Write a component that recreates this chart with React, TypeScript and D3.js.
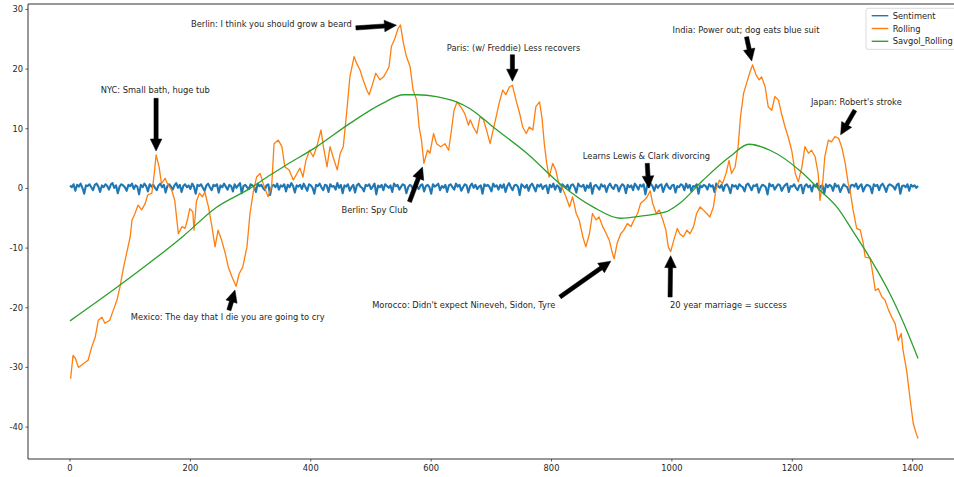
import React from "react";
import * as d3 from "d3";

// ---------- data ----------
const sentimentValues: number[] = [
  0.5,0.2,0.7,-0.4,0.6,0.3,0.8,0.1,-0.9,0.5,0.4,0.7,0.2,-0.3,0.6,0.8,0.3,-0.6,0.5,0.2,
  0.7,0.4,-0.2,0.6,0.9,0.1,0.5,-0.8,0.3,0.7,0.5,0.2,-0.4,0.6,0.4,0.8,-0.1,0.5,0.3,-1.0,
  0.6,0.2,0.8,0.4,-0.5,0.7,0.3,0.6,0.1,-0.3,0.5,0.8,0.2,0.6,-0.7,0.4,0.7,0.3,-0.2,0.5,
  0.9,0.1,0.6,-0.6,0.4,0.7,0.2,0.5,-0.1,0.8,0.3,-0.9,0.6,0.4,0.7,0.1,-0.4,0.5,0.8,0.2,
  -0.3,0.6,0.4,0.7,-0.7,0.5,0.2,0.8,0.3,-0.2,0.6,0.4,-0.5,0.7,0.1,0.5,0.9,-0.8,0.4,0.6,
  0.2,-0.1,0.7,0.5,0.3,-0.6,0.8,0.4,0.6,0.1,-0.3,0.5,0.7,-1.1,0.4,0.6,0.2,0.8,-0.2,0.5,
  0.3,0.7,-0.5,0.6,0.2,0.9,0.4,-0.7,0.5,0.3,0.6,-0.1,0.8,0.2,-0.4,0.7,0.5,0.1,-0.9,0.6,
  0.4,0.8,0.2,-0.3,0.6,0.5,-0.6,0.7,0.3,0.4,-0.2,0.9,0.1,0.6,-0.8,0.5,0.3,0.7,-0.4,0.2,
  0.6,-0.7,0.5,0.8,0.3,0.1,-0.5,0.6,0.4,0.7,-0.1,0.3,0.8,-1.0,0.5,0.2,0.6,-0.3,0.7,0.4,
  0.1,0.5,-0.6,0.8,0.4,0.6,-0.2,0.3,0.7,0.5,-0.8,0.2,0.6,0.4,-0.4,0.9,0.3,-0.1,0.5,0.7,
  -0.5,0.4,0.6,0.2,-0.9,0.7,0.3,0.5,0.8,-0.3,0.4,0.1,0.6,-0.6,0.5,0.7,0.2,-0.2,0.8,0.3,
  0.6,-0.4,0.2,0.7,0.5,-0.7,0.4,0.8,0.1,0.6,-0.1,0.3,0.5,-0.9,0.7,0.4,0.6,0.2,-0.5,0.8,
  0.3,0.5,-0.2,0.6,0.1,0.7,-0.6,0.4,0.9,0.2,-0.3,0.5,0.6,0.3,-1.1,0.7,0.4,0.1,0.6,-0.4,
  0.5,0.8,0.2,-0.5,0.6,0.3,0.7,-0.1,0.4,0.5,-0.8,0.6,0.2,0.8,-0.2,0.5,0.3,-0.6,0.7,0.4,
  0.1,0.6,-0.3,0.5,0.7,0.2,-0.7,0.8,0.4,0.3,0.6,-0.4,0.5,0.1,0.9,-0.9,0.4,0.6,0.2,-0.2,
  0.7,0.3,0.5,-0.6,0.4,0.8,0.2,-0.1,0.6,0.5,-0.5,0.3,0.7,0.4,-0.8,0.6,0.2,0.5,-0.3,0.8,
  0.4,-0.2,0.6,0.3,0.7,-1.0,0.5,0.2,0.8,0.4,-0.4,0.6,0.1,0.5,0.7,-0.6,0.3,0.8,0.2,-0.1,
  0.5,0.6,-0.7,0.4,0.2,0.7,0.5,-0.3,0.8,0.1,0.6,-0.5,0.4,0.3,0.7,-0.9,0.5,0.2,0.6,0.4,
  -0.2,0.7,0.3,0.5,-0.6,0.8,0.4,0.1,0.6,-0.4,0.5,0.7,0.2,-0.8,0.6,0.3,0.5,-0.1,0.7,0.4,
  0.2,-0.5,0.6,0.8,0.3,-0.3,0.5,0.4,0.7,-0.7,0.1,0.6,0.5,0.2,-1.0,0.8,0.4,0.6,-0.2,0.3,
  0.7,0.5,-0.4,0.2,0.6,0.8,-0.6,0.4,0.3,0.7,0.1,-0.3,0.5,0.6,-0.8,0.4,0.7,0.2,0.5,-0.5,
  0.6,0.3,0.8,-0.2,0.4,0.5,-0.9,0.7,0.2,0.6,0.4,-0.4,0.8,0.3,0.5,-0.6,0.1,0.7,0.4,0.2,
  -0.7,0.5,0.6,0.3,0.8,-0.1,0.4,0.7,-0.5,0.2,0.6,0.5,0.3,-0.8,0.7,0.4,0.6,-0.3,0.5,0.8,
  0.2,-0.6,0.4,0.7,0.5,0.3,-0.2,0.6,0.8,-0.9,0.4,0.5,0.2,0.7,-0.4,0.6,0.3,0.5,0.1,0.4,
];
const sentimentLastIndex = 1409;

const rollingX: number[] = [
  1,5,9,14,22,30,36,42,47,53,58,66,72,78,83,89,94,100,103,108,113,119,125,129,136,140,143,148,152,158,
  163,169,174,180,186,191,195,199,204,206,210,215,220,224,230,235,241,246,252,258,263,269,276,281,287,294,299,305,310,316,
  321,329,335,339,346,352,357,364,371,377,382,387,392,398,404,410,417,421,427,432,437,444,449,454,460,465,472,476,482,487,
  493,497,503,508,515,521,526,530,534,540,545,549,554,559,565,570,576,580,584,588,594,598,604,609,616,623,629,633,638,643,
  651,656,662,665,670,676,681,687,692,698,703,708,713,719,724,730,735,741,747,752,758,763,769,774,780,784,788,792,796,802,
  807,812,817,824,830,835,841,846,852,857,863,868,874,879,885,891,896,900,904,909,915,920,926,932,937,943,948,954,959,964,
  968,974,979,985,990,994,998,1003,1009,1013,1019,1025,1030,1036,1041,1047,1052,1058,1063,1069,1073,1079,1084,1090,1095,1099,1105,1110,1114,1119,
  1124,1130,1134,1140,1145,1149,1155,1160,1166,1171,1177,1182,1188,1193,1199,1205,1210,1216,1221,1227,1232,1238,1243,1246,1251,1254,1260,1265,1271,1277,
  1282,1288,1293,1296,1301,1307,1313,1318,1321,1329,1332,1338,1343,1349,1354,1360,1365,1371,1376,1381,1384,1390,1396,1401,1406,1409,
];
const rollingValues: number[] = [
  -31.9,-28.0,-28.5,-30.0,-29.4,-28.8,-26.6,-24.9,-22.1,-21.6,-22.6,-22.1,-20.4,-18.7,-16.5,-13.2,-10.9,-8.1,-5.3,-4.2,-2.8,-3.6,-2.5,-1.1,-0.8,2.5,5.6,3.6,0.8,1.7,
  0.55,-0.3,-2.0,-7.6,-6.4,-6.7,-5.3,-3.4,-3.9,-7.0,-2.2,-0.8,-1.4,-0.6,-3.1,-5.9,-9.8,-7.0,-8.7,-10.9,-13.2,-14.8,-16.4,-14.3,-13.2,-9.8,-4.2,-0.3,1.9,2.5,
  0.8,-1.4,0.3,7.5,8.1,7.0,3.6,3.1,1.4,2.5,3.4,1.9,4.7,6.4,5.3,7.0,9.8,7.0,3.6,7.0,5.3,3.1,5.9,7.0,13.1,18.7,22.1,21.0,19.8,18.2,
  16.5,15.7,17.6,19.3,18.2,18.7,19.6,20.4,23.8,25.2,26.8,27.4,24.3,22.1,20.4,16.5,14.8,10.3,8.1,4.2,6.4,5.9,9.2,7.5,7.0,7.5,6.4,9.2,13.1,14.5,
  13.4,12.5,10.6,11.5,10.3,9.2,12.0,11.5,9.8,7.5,9.8,12.0,14.3,16.5,15.7,17.0,17.3,14.8,12.6,10.3,9.2,10.3,9.8,13.7,14.5,12.0,7.5,4.2,1.9,4.2,
  3.1,0.8,0.3,-1.4,-3.1,-1.4,-4.2,-5.3,-8.1,-9.8,-7.6,-4.2,-5.3,-4.8,-6.4,-7.6,-8.7,-10.4,-11.8,-9.2,-7.6,-7.0,-5.9,-6.4,-5.3,-4.2,-2.5,-2.0,-1.4,-0.4,
  -2.5,-4.2,-3.6,-5.3,-7.0,-9.8,-10.6,-8.7,-6.7,-7.6,-8.1,-7.0,-7.6,-6.4,-4.2,-3.1,-3.6,-4.2,-4.8,-3.1,-0.3,1.4,0.8,2.5,4.7,2.5,3.6,7.0,12.0,15.9,
  17.6,19.6,20.7,19.0,18.2,18.7,17.0,13.7,13.1,15.4,14.8,12.6,10.3,8.7,6.4,2.5,1.1,3.6,7.0,5.9,6.4,5.3,2.5,-2.0,1.4,5.3,8.1,7.8,8.7,8.4,
  7.0,4.2,0.8,-0.3,-3.6,-6.7,-7.0,-9.2,-11.5,-11.7,-13.2,-17.1,-16.8,-18.2,-18.7,-20.4,-21.5,-22.7,-25.5,-24.3,-27.1,-30.5,-35.5,-39.4,-41.1,-41.9,
];

const savgolX: number[] = [0,83,188,243,299,332,354,410,465,520,554,576,609,642,664,703,759,814,869,914,958,991,1013,1052,1096,1128,1163,1218,1246,1274,1301,1321,1342,1362,1386,1409];
const savgolValues: number[] = [-22.2,-16.2,-8.0,-3.2,0.0,2.2,3.6,7.0,10.9,14.3,15.7,15.7,15.4,14.5,13.4,10.3,5.9,0.8,-3.1,-5.0,-4.5,-3.9,-2.5,1.4,5.3,7.4,6.4,2.5,-0.3,-3.1,-7.2,-10.35,-13.9,-17.6,-22.8,-28.5];

const xTicks: number[] = [0, 200, 400, 600, 800, 1000, 1200, 1400];
const yTicks: number[] = [30, 20, 10, 0, -10, -20, -30, -40];

const seriesNames: string[] = ["Sentiment", "Rolling", "Savgol_Rolling"];
const seriesColors: string[] = ["#1f77b4", "#ff7f0e", "#2ca02c"];

// annotations: text, text anchor (data), arrow tail (data), annotated point (data)
const annTexts: string[] = [
  "NYC: Small bath, huge tub",
  "Mexico: The day that I die you are going to cry",
  "Berlin: I think you should grow a beard",
  "Berlin: Spy Club",
  "Paris: (w/ Freddie) Less recovers",
  "Learns Lewis & Clark divorcing",
  "Morocco: Didn't expect Nineveh, Sidon, Tyre",
  "20 year marriage = success",
  "India: Power out; dog eats blue suit",
  "Japan: Robert's stroke",
];
const annTextPos: [number, number][] = [
  [51, 16.5], [101, -21.5], [201, 27.6], [451, -3.6], [626, 23.5],
  [852, 5.5], [502, -19.6], [997, -19.6], [1001, 26.6], [1231, 14.5],
];
const annTail: [number, number][] = [
  [143, 15.1], [264, -20.4], [475, 26.9], [564, -2.25], [735, 22.4],
  [959, 4.2], [814, -18.2], [997, -18.2], [1124, 25.4], [1304, 13.1],
];
const annPoint: [number, number][] = [
  [143, 5.6], [276, -16.4], [549, 27.4], [588, 4.2], [735, 17.3],
  [962, -0.6], [904, -11.8], [998, -10.6], [1134, 20.7], [1277, 8.4],
];

// ---------- layout ----------
const W = 954;
const H = 477;
const plotLeft = 28;
const plotTop = 4;
const plotBottom = 459;
const plotRightFull = 960.5;
const FONT = "'DejaVu Sans', sans-serif";
const FS = 8.3;

function arrowPath(tx: number, ty: number, px: number, py: number): string {
  const dx = px - tx;
  const dy = py - ty;
  const len = Math.sqrt(dx * dx + dy * dy);
  const ux = dx / len;
  const uy = dy / len;
  const shrink = 4;
  const tipX = px - ux * shrink;
  const tipY = py - uy * shrink;
  const nx = -uy;
  const ny = ux;
  const w = 2.1;
  const hw = 5.8;
  const hl = 12;
  const hx = tipX - ux * hl;
  const hy = tipY - uy * hl;
  const pts: [number, number][] = [
    [tx + nx * w, ty + ny * w],
    [hx + nx * w, hy + ny * w],
    [hx + nx * hw, hy + ny * hw],
    [tipX, tipY],
    [hx - nx * hw, hy - ny * hw],
    [hx - nx * w, hy - ny * w],
    [tx - nx * w, ty - ny * w],
  ];
  return "M" + pts.map((p) => p[0].toFixed(2) + "," + p[1].toFixed(2)).join("L") + "Z";
}

export default function App() {
  const x = d3.scaleLinear().domain([-69.8, 1479.5]).range([plotLeft, plotRightFull]);
  const y = d3.scaleLinear().domain([-45.35, 30.91]).range([plotBottom, plotTop]);

  const step = sentimentLastIndex / (sentimentValues.length - 1);
  const sentLine = d3
    .line<number>()
    .x((_, i) => x(i * step))
    .y((d) => y(d))(sentimentValues) as string;

  const rollLine = d3
    .line<number>()
    .x((_, i) => x(rollingX[i]))
    .y((d) => y(d))(rollingValues) as string;

  const savLine = d3
    .line<number>()
    .curve(d3.curveMonotoneX)
    .x((_, i) => x(savgolX[i]))
    .y((d) => y(d))(savgolValues) as string;

  const tickColor = "#262626";

  return (
    <svg
      width={W}
      height={H}
      style={{ position: "absolute", left: 0, top: 0, background: "#fff" }}
      fontFamily={FONT}
    >
      <rect x={0} y={0} width={W} height={H} fill="#fff" />
      <defs>
        <clipPath id="plotclip">
          <rect x={plotLeft} y={plotTop} width={plotRightFull - plotLeft} height={plotBottom - plotTop} />
        </clipPath>
      </defs>
      <g clipPath="url(#plotclip)">
        <path d={sentLine} fill="none" stroke={seriesColors[0]} strokeWidth={2.1} strokeLinejoin="round" />
        <path d={rollLine} fill="none" stroke={seriesColors[1]} strokeWidth={1.3} strokeLinejoin="round" />
        <path d={savLine} fill="none" stroke={seriesColors[2]} strokeWidth={1.3} />
      </g>

      {/* annotations */}
      {annTexts.map((t, i) => {
        const tx = x(annTail[i][0]);
        const ty = y(annTail[i][1]);
        const px = x(annPoint[i][0]);
        const py = y(annPoint[i][1]);
        return (
          <g key={"ann" + i}>
            <path d={arrowPath(tx, ty, px, py)} fill="#000" stroke="#000" strokeWidth={0.5} />
            <text
              x={x(annTextPos[i][0])}
              y={y(annTextPos[i][1])}
              fontSize={FS}
              fill={tickColor}
              dominantBaseline="central"
            >
              {t}
            </text>
          </g>
        );
      })}

      {/* spines */}
      <line x1={plotLeft} y1={plotTop} x2={plotLeft} y2={plotBottom} stroke="#333" strokeWidth={1} />
      <line x1={plotLeft} y1={plotBottom} x2={W} y2={plotBottom} stroke="#333" strokeWidth={1} />
      <line x1={plotLeft} y1={plotTop} x2={W} y2={plotTop} stroke="#333" strokeWidth={1} />

      {/* x axis */}
      {xTicks.map((t) => (
        <g key={"xt" + t}>
          <line x1={x(t)} x2={x(t)} y1={plotBottom} y2={plotBottom + 2.5} stroke="#333" strokeWidth={0.8} />
          <text x={x(t)} y={plotBottom + 9} fontSize={FS} fill={tickColor} textAnchor="middle" dominantBaseline="central">
            {t}
          </text>
        </g>
      ))}
      {/* y axis */}
      {yTicks.map((t) => (
        <g key={"yt" + t}>
          <line x1={plotLeft - 2.5} x2={plotLeft} y1={y(t)} y2={y(t)} stroke="#333" strokeWidth={0.8} />
          <text x={plotLeft - 5} y={y(t)} fontSize={FS} fill={tickColor} textAnchor="end" dominantBaseline="central">
            {t}
          </text>
        </g>
      ))}

      {/* legend */}
      <rect x={866} y={8.3} width={92} height={41} rx={2} fill="#fff" fillOpacity={0.8} stroke="#d0d0d0" strokeWidth={0.8} />
      {seriesNames.map((n, i) => (
        <g key={"lg" + i}>
          <line x1={871.7} x2={888.3} y1={15.7 + i * 12.8} y2={15.7 + i * 12.8} stroke={seriesColors[i]} strokeWidth={1.4} />
          <text x={892.7} y={15.7 + i * 12.8} fontSize={FS} fill={tickColor} dominantBaseline="central">
            {n}
          </text>
        </g>
      ))}
    </svg>
  );
}
